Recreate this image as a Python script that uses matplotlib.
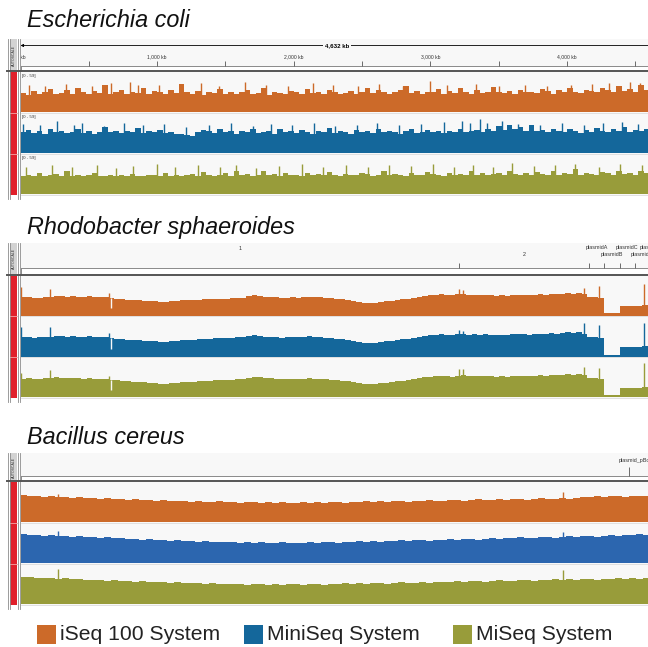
import numpy as np
import matplotlib.pyplot as plt
from matplotlib.patches import Rectangle

plt.rcParams['font.family'] = ['Liberation Sans', 'DejaVu Sans']

W, H = 648, 647

# ---------------- data ----------------
# Escherichia coli coverage, 40 kb bins
ecoli_size_kb = 4632
ecoli_bin_kb = 40
ecoli_iseq = [30, 27, 33, 29, 31, 36, 28, 30, 34, 29, 38, 31, 28, 33, 30, 42, 29, 31, 35, 28,
              32, 30, 37, 29, 33, 31, 28, 35, 30, 44, 31, 29, 33, 27, 31, 30, 36, 29, 32, 28,
              31, 34, 29, 30, 38, 27, 32, 30, 29, 33, 31, 28, 36, 30, 32, 29, 34, 31, 28, 30,
              33, 29, 31, 38, 30, 35, 32, 29, 31, 34, 40, 30, 33, 29, 32, 31, 36, 28, 33, 30,
              37, 31, 29, 34, 30, 32, 39, 31, 30, 33, 29, 35, 31, 32, 30, 36, 33, 29, 34, 31,
              38, 32, 30, 35, 33, 31, 37, 34, 32, 40, 33, 36, 31, 42, 35, 33]
ecoli_miniseq = [33, 36, 31, 34, 30, 38, 32, 35, 31, 33, 37, 31, 34, 30, 33, 40, 32, 35, 31, 34,
                 33, 39, 31, 34, 32, 36, 31, 33, 30, 29, 28, 27, 33, 36, 34, 31, 38, 32, 35, 30,
                 34, 32, 37, 31, 33, 35, 30, 38, 32, 34, 31, 36, 33, 30, 35, 32, 39, 31, 34, 33,
                 30, 36, 32, 34, 31, 37, 33, 35, 32, 30, 34, 38, 31, 33, 36, 32, 34, 31, 35, 33,
                 37, 32, 34, 36, 33, 38, 35, 42, 36, 44, 37, 41, 35, 43, 34, 36, 33, 38, 35, 32,
                 37, 34, 31, 36, 33, 39, 34, 32, 37, 35, 40, 33, 36, 34, 38, 35]
ecoli_miseq = [28, 30, 27, 33, 28, 29, 31, 27, 36, 28, 30, 27, 29, 32, 28, 27, 30, 28, 29, 27,
               31, 28, 27, 29, 30, 28, 33, 27, 29, 28, 30, 31, 28, 34, 29, 27, 30, 33, 28, 36,
               29, 31, 28, 30, 35, 29, 31, 28, 33, 30, 29, 28, 32, 30, 31, 29, 34, 30, 28, 31,
               30, 29, 33, 31, 28, 30, 35, 29, 31, 30, 28, 32, 30, 29, 34, 31, 30, 28, 33, 30,
               31, 29, 35, 30, 32, 29, 31, 33, 30, 36, 31, 29, 32, 30, 34, 31, 29, 35, 30, 32,
               31, 38, 30, 33, 31, 29, 34, 32, 30, 36, 31, 33, 30, 35, 32, 31]
# narrow peaks (kb, coverage)
ecoli_iseq_spike_kb = [60, 180, 330, 520, 660, 800, 860, 1010, 1180, 1320, 1450, 1645, 1800, 1960,
                       2140, 2290, 2470, 2620, 2800, 3000, 3120, 3330, 3500, 3690, 3850, 4030, 4180,
                       4310, 4460, 4530, 4600]
ecoli_iseq_spikes = [42, 40, 44, 41, 46, 47, 43, 42, 40, 45, 41, 47, 42, 40, 45, 43, 41, 44, 40,
                     48, 42, 44, 41, 43, 40, 42, 44, 46, 47, 45, 43]
ecoli_miniseq_spike_kb = [20, 140, 270, 390, 450, 610, 760, 900, 1050, 1210, 1380, 1540, 1700, 1830,
                          1990, 2150, 2300, 2460, 2610, 2770, 2930, 3100, 3230, 3290, 3360, 3410,
                          3520, 3640, 3800, 3960, 4120, 4260, 4400, 4520]
ecoli_miniseq_spikes = [45, 43, 50, 44, 47, 42, 46, 43, 45, 41, 44, 46, 42, 45, 43, 47, 42, 44, 46,
                        43, 45, 48, 50, 47, 52, 46, 49, 45, 44, 47, 43, 46, 48, 45]
ecoli_miseq_spike_kb = [40, 230, 380, 560, 700, 820, 1000, 1130, 1300, 1460, 1580, 1720, 1890, 2060,
                        2210, 2380, 2540, 2700, 2860, 3020, 3170, 3310, 3460, 3600, 3760, 3910, 4060,
                        4230, 4390, 4550]
ecoli_miseq_spikes = [42, 44, 41, 45, 40, 43, 47, 41, 44, 42, 45, 40, 43, 46, 41, 44, 42, 45, 43,
                      47, 42, 44, 41, 48, 43, 45, 46, 42, 47, 44]
ecoli_tick_kb = [500, 1000, 1500, 2000, 2500, 3000, 3500, 4000, 4500]
ecoli_label_kb = [0, 1000, 2000, 3000, 4000]
ecoli_labels = ["0 kb", "1,000 kb", "2,000 kb", "3,000 kb", "4,000 kb"]

# Rhodobacter sphaeroides coverage, 40 kb bins
rhodo_contigs = ["1", "2", "plasmidA", "plasmidB", "plasmidC", "plasmidD", "plasmidE"]
rhodo_contig_kb = [3188.5, 943.0, 114.0, 114.2, 105.3, 100.8, 37.1]
rhodo_bin_kb = 40
rhodo_iseq = [19, 19, 18, 18, 19, 19, 20, 20, 19, 20, 19, 19, 20, 19, 19, 19, 18, 17, 17, 16,
              16, 16, 15, 15, 15, 14, 14, 15, 15, 16, 16, 16, 16, 17, 17, 17, 17, 17, 18, 18,
              18, 20, 21, 20, 19, 19, 19, 18, 18, 19, 18, 19, 19, 19, 19, 18, 18, 17, 17, 16,
              15, 14, 13, 13, 13, 14, 15, 15, 16, 17, 17, 18, 19, 20, 21, 21, 22, 21, 21, 22,
              22, 21, 21, 21, 21, 21, 20, 21, 20, 21, 21, 21, 21, 21, 22, 21, 22, 22, 22, 23,
              22, 23, 22, 19, 19, 18, 3, 3, 3, 10, 10, 10, 10, 11, 12, 12]
rhodo_miniseq = [20, 20, 19, 20, 20, 20, 21, 21, 20, 21, 20, 20, 21, 20, 20, 20, 19, 18, 18, 17,
                 17, 17, 16, 16, 16, 15, 15, 16, 16, 17, 17, 17, 18, 18, 18, 19, 19, 19, 19, 20,
                 20, 21, 22, 21, 20, 20, 20, 19, 20, 20, 20, 20, 21, 20, 20, 19, 19, 18, 18, 17,
                 16, 15, 14, 14, 14, 15, 16, 16, 17, 18, 18, 19, 20, 21, 22, 22, 23, 22, 22, 23,
                 23, 22, 23, 22, 23, 22, 22, 22, 22, 23, 23, 23, 22, 23, 23, 23, 24, 23, 24, 25,
                 24, 25, 23, 20, 20, 19, 2, 2, 2, 10, 10, 10, 10, 11, 12, 12]
rhodo_miseq = [19, 20, 19, 19, 20, 20, 21, 20, 20, 20, 20, 19, 20, 19, 19, 19, 18, 18, 17, 17,
               16, 16, 16, 15, 15, 14, 14, 15, 15, 16, 16, 16, 17, 17, 17, 18, 18, 18, 18, 19,
               19, 20, 21, 21, 20, 20, 19, 19, 19, 19, 19, 19, 20, 19, 19, 19, 18, 18, 17, 17,
               16, 15, 14, 14, 14, 15, 15, 16, 17, 17, 18, 19, 20, 21, 21, 22, 22, 22, 21, 22,
               23, 22, 22, 22, 22, 22, 21, 22, 21, 22, 22, 22, 22, 22, 23, 22, 23, 23, 23, 24,
               23, 24, 23, 20, 20, 19, 2, 2, 2, 10, 10, 10, 10, 11, 12, 12]
rhodo_spike_kb = [3, 218, 640, 3188, 3217, 4098, 4208, 4535]
rhodo_iseq_spikes = [29, 27, 23, 27, 26, 28, 30, 32]
rhodo_miniseq_spikes = [30, 30, 24, 27, 26, 34, 32, 34]
rhodo_miseq_spikes = [25, 28, 22, 29, 29, 31, 30, 35]
rhodo_dip_kb = 655
rhodo_dips = [8, 8, 8]

# Bacillus cereus coverage, 60 kb bins
bacillus_contigs = ["", "plasmid_pBc10987"]
bacillus_contig_kb = [5224.3, 208.4]
bacillus_bin_kb = 60
bacillus_iseq = [28, 27, 27, 26, 27, 26, 26, 25, 26, 25, 25, 24, 25, 24, 24, 23, 24, 23, 23, 22,
                 23, 22, 22, 22, 21, 22, 21, 21, 22, 21, 21, 20, 21, 21, 20, 21, 20, 21, 20, 20,
                 21, 20, 21, 20, 21, 21, 20, 21, 21, 22, 21, 22, 21, 22, 22, 21, 22, 22, 23, 22,
                 22, 23, 23, 22, 23, 24, 23, 23, 24, 23, 24, 24, 23, 24, 25, 24, 24, 25, 24, 25,
                 26, 26, 27, 26, 27, 27, 26, 27, 27, 27, 27]
bacillus_miniseq = [30, 29, 29, 28, 29, 28, 28, 27, 28, 27, 27, 26, 27, 26, 26, 25, 25, 24, 25, 24,
                    24, 23, 24, 23, 23, 22, 23, 22, 22, 22, 22, 21, 22, 21, 22, 21, 21, 22, 21, 21,
                    21, 22, 21, 22, 22, 21, 22, 22, 23, 22, 23, 22, 23, 23, 24, 23, 24, 24, 23, 24,
                    24, 25, 24, 25, 25, 24, 25, 26, 25, 26, 26, 27, 26, 26, 27, 27, 26, 27, 28, 27,
                    28, 28, 27, 28, 29, 28, 29, 29, 30, 29, 30]
bacillus_miseq = [28, 28, 27, 27, 27, 26, 27, 26, 26, 25, 25, 25, 24, 25, 24, 24, 23, 24, 23, 23,
                  23, 22, 23, 22, 22, 22, 21, 22, 21, 21, 21, 21, 20, 21, 21, 20, 21, 20, 21, 21,
                  20, 21, 21, 20, 21, 21, 22, 21, 22, 21, 22, 22, 21, 22, 23, 22, 22, 23, 22, 23,
                  23, 23, 24, 23, 24, 24, 23, 24, 25, 24, 24, 25, 25, 24, 25, 25, 26, 25, 26, 25,
                  26, 26, 25, 26, 26, 27, 26, 27, 26, 27, 27]
bacillus_spike_kb = [326, 4658]
bacillus_iseq_spikes = [29, 31]
bacillus_miniseq_spikes = [33, 32]
bacillus_miseq_spikes = [36, 35]

legend_labels = ["iSeq 100 System", "MiniSeq System", "MiSeq System"]

ORANGE = "#CC6A29"
BLUE = "#14679B"
BLUE_BC = "#2C66AF"
GREEN = "#989C3A"
BG = "#f8f8f8"

fig = plt.figure(figsize=(W / 100, H / 100), dpi=100)
ov = fig.add_axes([0, 0, 1, 1], zorder=0)
ov.set_xlim(0, W)
ov.set_ylim(H, 0)
ov.axis("off")


def px_axes(x0, y0, x1, y1):
    ax = fig.add_axes([x0 / W, 1 - y1 / H, (x1 - x0) / W, (y1 - y0) / H], zorder=2)
    ax.set_facecolor("none")
    ax.axis("off")
    return ax


X0, X1 = 20.5, 653.5


def draw_panel(title, title_y, strip_top, box_top, box_bot, tracks_top, track_h,
               total_kb, bin_kb, series, colors, ymax, spike_kb=None, spikes=None,
               range_label=None, dip_kb=None, dips=None):
    tracks_bot = tracks_top + 3 * track_h
    ov.text(27, title_y, title, style="italic", fontsize=16.8, va="baseline", color="#111")
    # background
    ov.add_patch(Rectangle((X0, strip_top), W, tracks_bot - strip_top, color=BG, lw=0))
    ov.add_patch(Rectangle((X0, box_top), W, box_bot - box_top, color="white", lw=0))
    # left strip
    for x in (8, 10, 17.6, 20):
        ov.plot([x, x], [strip_top, tracks_bot + 4], color="#8c8c8c", lw=0.6)
    ov.add_patch(Rectangle((10.4, strip_top), 7, box_bot - strip_top, color="#d3d3d3", lw=0))
    ov.text(13.9, (strip_top + box_bot) / 2, "AUTOSCALE", rotation=90, ha="center",
            va="center", fontsize=2.5, color="#333")
    ov.add_patch(Rectangle((10.4, tracks_top), 7, tracks_bot - tracks_top, color="#E0202B", lw=0))
    for i in range(1, 3):
        yb = tracks_top + i * track_h
        ov.plot([10.4, 17.4], [yb, yb], color="#f2a7a7", lw=0.6)
    # ruler box
    ov.plot([X0, W], [box_top, box_top], color="#8a8a8a", lw=0.7)
    ov.plot([X0, X0], [box_top, box_bot], color="#8a8a8a", lw=0.7)
    ov.plot([7, W], [box_bot, box_bot], color="#555", lw=1.4)
    # tracks
    for i, (vals, c) in enumerate(zip(series, colors)):
        y0 = tracks_top + i * track_h
        ax = px_axes(X0, y0, X1, y0 + track_h - 0.6)
        ax.set_xlim(0, total_kb)
        ax.set_ylim(0, ymax)
        edges = np.arange(len(vals) + 1) * bin_kb
        ax.stairs(vals, edges, fill=True, color=c, lw=0)
        if spike_kb is not None:
            ax.vlines(spike_kb[i], 0, spikes[i], color=c, lw=1.0)
        if dip_kb is not None:
            ax.vlines(dip_kb, dips[i], vals[int(dip_kb // bin_kb)], color=BG, lw=1.0)
        ov.plot([X0, W], [y0 + track_h, y0 + track_h], color="#dcdcdc", lw=0.6)
        if range_label:
            ov.text(22, y0 + 4, range_label, fontsize=3.2, color="#333", va="center")
    ra = px_axes(X0, strip_top, X1, box_bot)
    ra.set_xlim(0, total_kb)
    ra.set_ylim(box_bot, strip_top)
    return ra


# Escherichia coli
ra = draw_panel("Escherichia coli", 27, 39, 65.7, 71.2, 72.2, 40.8, ecoli_size_kb, ecoli_bin_kb,
                [ecoli_iseq, ecoli_miniseq, ecoli_miseq], [ORANGE, BLUE, GREEN], 62,
                spike_kb=[ecoli_iseq_spike_kb, ecoli_miniseq_spike_kb, ecoli_miseq_spike_kb],
                spikes=[ecoli_iseq_spikes, ecoli_miniseq_spikes, ecoli_miseq_spikes],
                range_label="[0 - 59]")
ra.annotate("", xy=(0, 45.5), xytext=(ecoli_size_kb, 45.5),
            arrowprops=dict(arrowstyle="<|-|>", color="black", lw=0.6, mutation_scale=4,
                            shrinkA=0, shrinkB=0))
ra.text(ecoli_size_kb / 2, 45.5, f"{ecoli_size_kb:,} kb", ha="center", va="center",
        fontsize=4.4, fontweight="bold", bbox=dict(facecolor=BG, edgecolor="none", pad=1.5))
ra.vlines(ecoli_tick_kb, 61, 65.7, color="#555", lw=0.6)
for kb, lab in zip(ecoli_label_kb, ecoli_labels):
    ra.text(kb, 57, lab, ha="center", va="center", fontsize=3.6, color="#333", clip_on=True)

# Rhodobacter sphaeroides
rhodo_bounds = np.cumsum([0] + rhodo_contig_kb)
ra = draw_panel("Rhodobacter sphaeroides", 234, 243, 268.3, 274.6, 275.6, 40.8,
                rhodo_bounds[-1], rhodo_bin_kb,
                [rhodo_iseq, rhodo_miniseq, rhodo_miseq], [ORANGE, BLUE, GREEN], 41,
                spike_kb=[rhodo_spike_kb] * 3,
                spikes=[rhodo_iseq_spikes, rhodo_miniseq_spikes, rhodo_miseq_spikes],
                dip_kb=rhodo_dip_kb, dips=rhodo_dips)
ra.vlines(rhodo_bounds[1:], 263.5, 268.3, color="#555", lw=0.6)
for k, name in enumerate(rhodo_contigs):
    mid = (rhodo_bounds[k] + rhodo_bounds[k + 1]) / 2
    ra.text(mid, 248 if k % 2 == 0 else 254.5, name, ha="center", va="center",
            fontsize=3.9, color="#333", clip_on=False)

# Bacillus cereus
bc_bounds = np.cumsum([0] + bacillus_contig_kb)
ra = draw_panel("Bacillus cereus", 444, 453, 476, 481, 482, 41,
                bc_bounds[-1], bacillus_bin_kb,
                [bacillus_iseq, bacillus_miniseq, bacillus_miseq], [ORANGE, BLUE_BC, GREEN], 41,
                spike_kb=[bacillus_spike_kb] * 3,
                spikes=[bacillus_iseq_spikes, bacillus_miniseq_spikes, bacillus_miseq_spikes])
ra.vlines(bc_bounds[1:-1], 467, 476, color="#555", lw=0.6)
for k, name in enumerate(bacillus_contigs):
    mid = (bc_bounds[k] + bc_bounds[k + 1]) / 2
    ra.text(mid, 461, name, ha="center", va="center", fontsize=3.9, color="#333")

# legend
for x, lab, c in zip([37, 244, 453], legend_labels, [ORANGE, BLUE, GREEN]):
    ov.add_patch(Rectangle((x, 625), 19, 19, color=c, lw=0))
    ov.text(x + 23, 635, lab, va="center", fontsize=15.2, color="#222")

fig.savefig("out.png", dpi=100)
